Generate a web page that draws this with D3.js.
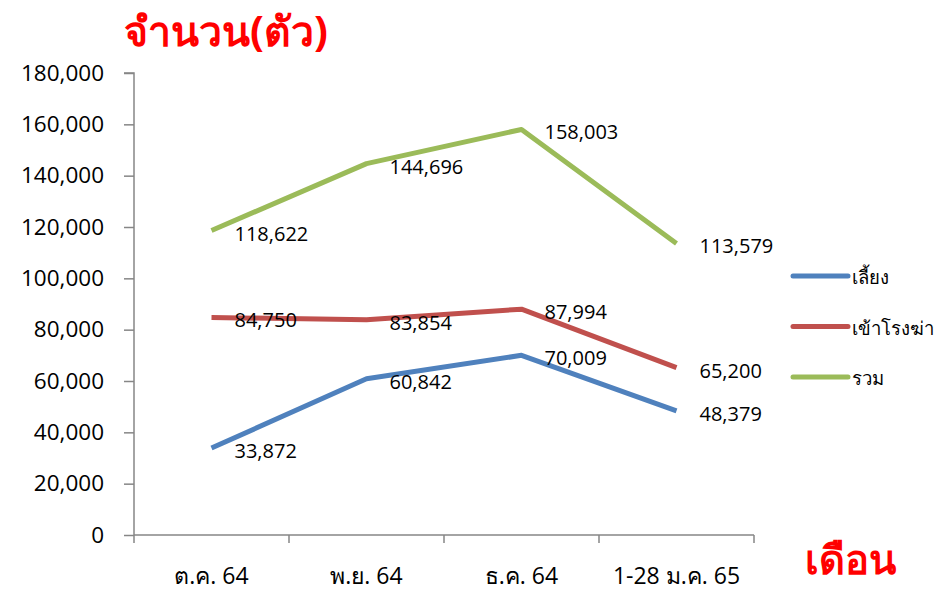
<!DOCTYPE html>
<html>
<head>
<meta charset="utf-8">
<script src="https://cdn.jsdelivr.net/npm/d3@7"></script>
<style>
  body { margin: 0; background: #fff; }
  svg text { font-family: "Open Sans", "Noto Sans", "DejaVu Sans", sans-serif; }
</style>
</head>
<body>
<div id="chart"></div>
<script>
// ข้อมูลรายเดือน
const months = ["ต.ค. 64", "พ.ย. 64", "ธ.ค. 64", "1-28 ม.ค. 65"];
const seriesNames = ["เลี้ยง", "เข้าโรงฆ่า", "รวม"];
const raised = [33872, 60842, 70009, 48379];
const slaughtered = [84750, 83854, 87994, 65200];
const total = [118622, 144696, 158003, 113579];
const yTicks = [0, 20000, 40000, 60000, 80000, 100000, 120000, 140000, 160000, 180000];
const colors = ["#4F81BD", "#C0504D", "#9BBB59"];

const width = 944, height = 593;
const margin = { top: 73, right: 190, bottom: 58, left: 134 };

const svg = d3.select("#chart").append("svg")
  .attr("width", width)
  .attr("height", height);

const x = d3.scaleBand()
  .domain(months)
  .range([margin.left, width - margin.right])
  .padding(0);

const y = d3.scaleLinear()
  .domain([0, 180000])
  .range([height - margin.bottom, margin.top]);

const fmt = d3.format(",");

// แกน Y
const yAxis = svg.append("g")
  .attr("transform", `translate(${margin.left},0)`)
  .call(d3.axisLeft(y).tickValues(yTicks).tickFormat(fmt).tickSize(10).tickPadding(20));
yAxis.selectAll("path, line").attr("stroke", "#868686").attr("stroke-width", 1.5);
yAxis.select(".domain").attr("d", `M-10,${y(180000)}H0V${y(0)}`);
yAxis.selectAll("text").style("font-size", "22.5px").style("fill", "#000");

// แกน X
const xAxis = svg.append("g")
  .attr("transform", `translate(0,${y(0)})`)
  .call(d3.axisBottom(x).tickSize(0).tickPadding(33));
xAxis.select(".domain").attr("stroke", "#868686").attr("stroke-width", 1.5)
  .attr("d", `M${margin.left},0H${width - margin.right}`);
xAxis.selectAll(".tick text").style("font-size", "23px").style("fill", "#000");

// ขีดแบ่งหมวด
const bounds = months.map((m) => x(m)).concat([x(months[months.length - 1]) + x.bandwidth()]);
xAxis.selectAll(".sep")
  .data(bounds)
  .enter()
  .append("line")
  .attr("x1", (d) => d)
  .attr("x2", (d) => d)
  .attr("y1", 0)
  .attr("y2", 8)
  .attr("stroke", "#868686")
  .attr("stroke-width", 1.5);

const series = [raised, slaughtered, total].map((vals, i) => ({
  name: seriesNames[i],
  color: colors[i],
  values: vals.map((v, j) => ({ month: months[j], value: v }))
}));

const line = d3.line()
  .x((d) => x(d.month) + x.bandwidth() / 2)
  .y((d) => y(d.value));

svg.selectAll(".series")
  .data(series)
  .enter()
  .append("path")
  .attr("class", "series")
  .attr("d", (d) => line(d.values))
  .attr("fill", "none")
  .attr("stroke", (d) => d.color)
  .attr("stroke-width", 5)
  .attr("stroke-linejoin", "round");

// ป้ายค่า
series.forEach((s) => {
  svg.selectAll(null)
    .data(s.values)
    .enter()
    .append("text")
    .attr("x", (d) => x(d.month) + x.bandwidth() / 2 + 23)
    .attr("y", (d) => y(d.value) + 10)
    .style("font-size", "20px")
    .style("fill", "#000")
    .text((d) => fmt(d.value));
});

// คำอธิบาย
const legend = svg.append("g").attr("transform", "translate(793,276)");
const item = legend.selectAll(".item")
  .data(series)
  .enter()
  .append("g")
  .attr("transform", (d, i) => `translate(0,${i * 50.5})`);
item.append("line")
  .attr("x1", 0).attr("x2", 55)
  .attr("stroke", (d) => d.color)
  .attr("stroke-width", 5)
  .attr("stroke-linecap", "round");
item.append("text")
  .attr("x", 59)
  .attr("y", 8)
  .style("font-size", "18.5px")
  .style("fill", "#000")
  .text((d) => d.name);

// ชื่อแกน
svg.append("text")
  .attr("x", 124)
  .attr("y", 46)
  .style("font-size", "41px")
  .style("font-weight", "bold")
  .style("fill", "#FF0000")
  .text("จำนวน(ตัว)");

svg.append("text")
  .attr("x", 805)
  .attr("y", 574)
  .style("font-size", "40px")
  .style("font-weight", "bold")
  .style("fill", "#FF0000")
  .text("เดือน");
</script>
</body>
</html>
